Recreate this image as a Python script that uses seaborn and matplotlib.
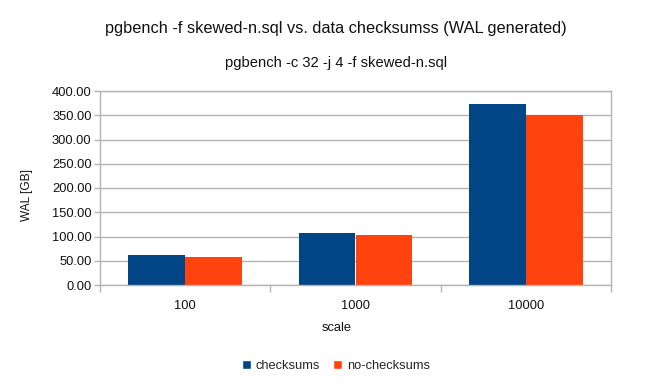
# pgbench WAL generado: con y sin checksums
import pandas as pd
import matplotlib
matplotlib.use('Agg')
import matplotlib.pyplot as plt
from matplotlib.patches import Patch
from matplotlib.ticker import FormatStrFormatter, FixedLocator
import seaborn as sns

# Datos
scales = ['100', '1000', '10000']
checksums = [62.0, 107.4, 373.8]
no_checksums = [57.1, 103.3, 350.4]
series_names = ['checksums', 'no-checksums']
colors = ['#004586', '#ff420e']

df = pd.DataFrame({
    'scale': scales * 2,
    'wal': checksums + no_checksums,
    'serie': [series_names[0]] * 3 + [series_names[1]] * 3,
})

sns.set_style('white')
plt.rcParams['font.family'] = ['Liberation Sans', 'DejaVu Sans']

fig = plt.figure(figsize=(6.72, 3.84), dpi=100)
ax = fig.add_axes([100 / 672, 1 - 285 / 384, 511 / 672, 194 / 384])

sns.barplot(data=df, x='scale', y='wal', hue='serie', palette=colors,
            width=0.667, saturation=1, linewidth=0, legend=False, ax=ax)

grid_c = '#b3b3b3'
txt_c = '#111111'
fs = 9.3
ax.set_ylim(0, 400)
ax.set_xlim(-0.5, 2.5)
ax.set_yticks(range(0, 401, 50))
ax.yaxis.set_major_formatter(FormatStrFormatter('%.2f'))
ax.yaxis.grid(True, color=grid_c, linewidth=1)
ax.set_axisbelow(True)
for s in ax.spines.values():
    s.set_color(grid_c)
    s.set_linewidth(1)

ax.tick_params(axis='y', length=4, width=1, color=grid_c, labelsize=fs,
               labelcolor=txt_c, pad=2, left=True)
ax.tick_params(axis='x', which='major', length=0, labelsize=fs,
               labelcolor=txt_c, pad=11)
ax.xaxis.set_minor_locator(FixedLocator([-0.5, 0.5, 1.5, 2.5]))
ax.tick_params(axis='x', which='minor', length=5, width=1, color=grid_c,
               bottom=True)

ax.set_xlabel('')
ax.set_ylabel('WAL [GB]', fontsize=8.6, color=txt_c)
ax.yaxis.set_label_coords(-0.131, 0.464)

fig.text(337 / 672, 1 - 328 / 384, 'scale', ha='center', va='center',
         fontsize=fs, color=txt_c)
fig.text(336 / 672, 1 - 29 / 384,
         'pgbench -f skewed-n.sql vs. data checksumss (WAL generated)',
         ha='center', va='center', fontsize=11.8, color=txt_c)
fig.text(336 / 672, 1 - 63 / 384, 'pgbench -c 32 -j 4 -f skewed-n.sql',
         ha='center', va='center', fontsize=10.6, color=txt_c)

handles = [Patch(facecolor=c, label=n) for c, n in zip(colors, series_names)]
fig.legend(handles=handles, loc='center', bbox_to_anchor=(336 / 672, 1 - 366 / 384),
           ncol=2, frameon=False, fontsize=fs, handlelength=0.65,
           handleheight=0.65, handletextpad=0.4, columnspacing=1.0)

fig.savefig('out.png', dpi=100)
